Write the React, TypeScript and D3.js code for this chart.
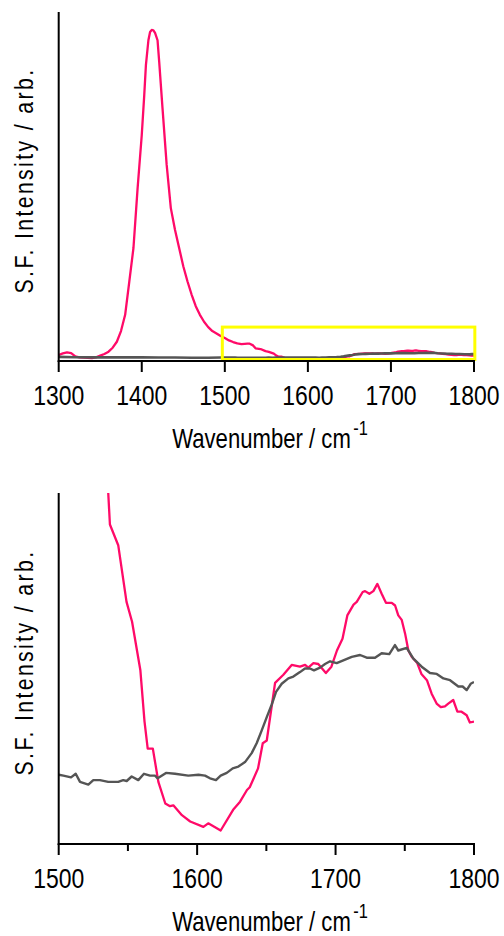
import React from "react";
import * as d3 from "d3";

// ---- Data ----
const pinkWn = [
  1300, 1305, 1310, 1315, 1320, 1325, 1330, 1340, 1345, 1350, 1355, 1360, 1365, 1370, 1375, 1380, 1385, 1390, 1395, 1400,
  1403, 1405, 1408, 1410, 1412, 1414, 1416, 1419, 1421, 1425, 1430, 1435, 1440, 1445, 1450, 1455, 1460, 1465, 1470, 1475,
  1480, 1485, 1490, 1495, 1500, 1505, 1510, 1515, 1520, 1524, 1527, 1530, 1534, 1537, 1543, 1549, 1553, 1559, 1562, 1564.3,
  1568, 1572, 1577, 1580.4, 1582.8, 1589, 1595, 1604.5, 1608, 1617, 1626, 1631, 1636, 1638, 1644, 1647.4, 1650.3, 1656.3,
  1662.3, 1668.3, 1674.3, 1678, 1680.3, 1684, 1687.5, 1693, 1697, 1701, 1705, 1708.5, 1713, 1715.3, 1719.6, 1721.3, 1724.4,
  1727.3, 1730.2, 1733.3, 1736.4, 1740.6, 1743, 1745.3, 1747.8, 1750.2, 1752.6, 1755, 1759, 1762, 1766, 1769.4, 1773, 1776,
  1779, 1781.4, 1785, 1788, 1791, 1794.7, 1797, 1800,
];
const pinkVal = [
  1.8, 2.3, 2.6, 2.4, 1.4, 1.1, 1.0, 0.9, 1.1, 1.6, 2.1, 2.8, 4.0, 5.8, 9.0, 13.9, 23.9, 34, 52, 68,
  80, 89, 96.5, 99, 99.6, 99.5, 98.7, 96.5, 90, 76, 59, 46, 39.5, 34, 28.5, 24, 20, 16.5, 13.9, 11.8,
  10.2, 9.0, 8.3, 7.5, 6.9, 6.2, 5.7, 5.3, 5.1, 5.15, 5.2, 5.2, 4.7, 3.83, 3.6, 2.97, 2.75, 2.21, 1.64, 1.34,
  1.34, 0.97, 0.73, 0.7, 0.71, 0.6, 0.53, 0.47, 0.51, 0.43, 0.66, 0.75, 0.88, 0.91, 1.12, 1.4, 1.43, 2.07,
  2.16, 2.27, 2.25, 2.27, 2.24, 2.29, 2.28, 2.18, 2.25, 2.43, 2.56, 2.82, 2.94, 2.97, 3.08, 3.09, 3.06,
  3.09, 3.17, 3.06, 2.96, 2.96, 2.93, 2.82, 2.77, 2.62, 2.43, 2.36, 2.29, 2.17, 2.1, 1.95, 1.84, 1.8,
  1.81, 1.84, 1.88, 1.75, 1.75, 1.71, 1.63, 1.64,
];
const grayWn = [
  1300, 1320, 1340, 1360, 1380, 1400, 1420, 1440, 1460, 1480, 1495, 1500, 1503.4, 1508.9, 1512.3, 1515.4, 1521.4, 1525,
  1529.8, 1535.8, 1543, 1546.6, 1549.1, 1552.7, 1557.5, 1561.6, 1566, 1569.6, 1571.5, 1577.5, 1584, 1593.6, 1601, 1605.7,
  1609.3, 1613.6, 1617, 1621.4, 1625.7, 1629.8, 1634.6, 1639.4, 1643, 1646.6, 1650.3, 1653.9, 1657, 1661.1, 1665.9, 1669.5,
  1674.3, 1677.9, 1681.5, 1684.4, 1688.8, 1692.4, 1696, 1700.8, 1705.6, 1711.7, 1717.7, 1722.5, 1728.5, 1733.3, 1738.8,
  1742.9, 1745.3, 1751.4, 1756.2, 1762.2, 1768.2, 1773.1, 1777.9, 1782.7, 1788.7, 1791.8, 1794.7, 1797.6, 1800,
];
const grayVal = [
  1.25, 1.15, 1.1, 1.1, 1.1, 1.1, 1.05, 1.05, 1.0, 1.0, 1.05, 1.05, 1.04, 1.02, 1.06, 0.97, 0.94, 0.99,
  0.99, 0.97, 0.97, 0.99, 0.98, 1.03, 0.99, 1.06, 1.04, 1.04, 1.01, 1.07, 1.06, 1.04, 1.05, 1.04,
  1.01, 0.99, 1.04, 1.07, 1.12, 1.14, 1.19, 1.29, 1.4, 1.54, 1.69, 1.83, 1.97, 2.06, 2.12, 2.14,
  2.19, 2.23, 2.23, 2.21, 2.24, 2.28, 2.31, 2.29, 2.32, 2.36, 2.38, 2.35, 2.35, 2.4, 2.39,
  2.49, 2.43, 2.46, 2.34, 2.25, 2.18, 2.17, 2.12, 2.1, 2.03, 2.03, 1.99, 2.06, 2.08,
];

const topXDomain = [1300, 1800];
const topYDomain = [0, 105];
const topTicks = [1300, 1400, 1500, 1600, 1700, 1800];
const botXDomain = [1500, 1800];
const botYDomain = [0.28, 4.18];
const botTicks = [1500, 1600, 1700, 1800];
const botMinorTicks = [1550, 1650, 1750];
const zoomBoxX = [1497, 1801];
const zoomBoxY = [0.45, 10.2];

const xTitle = "Wavenumber / cm";
const xTitleSup = "-1";
const yTitle = "S.F. Intensity / arb.";

const PINK = "#ff0a68";
const GRAY = "#555555";
const LEFT = 58.7;
const RIGHT = 474;
const FONT = "'Liberation Sans', Arial, sans-serif";
const SQUEEZE = 0.82;

type Pt = [number, number];
const pinkPts: Pt[] = pinkWn.map((w, i) => [w, pinkVal[i]]);
const grayPts: Pt[] = grayWn.map((w, i) => [w, grayVal[i]]);

function Panel(props: {
  id: string;
  top: number;
  bottom: number;
  xDomain: number[];
  yDomain: number[];
  ticks: number[];
  minorTicks: number[];
  box?: boolean;
  grayWidth: number;
}) {
  const { id, top, bottom, xDomain, yDomain, ticks, minorTicks, box, grayWidth } = props;
  const x = d3.scaleLinear().domain(xDomain).range([LEFT, RIGHT]);
  const y = d3.scaleLinear().domain(yDomain).range([bottom, top]);
  const line = d3
    .line<Pt>()
    .x((d) => x(d[0]))
    .y((d) => y(d[1]));
  const inRange = (p: Pt) => p[0] >= xDomain[0] - 10 && p[0] <= xDomain[1] + 10;
  const mid = (top + bottom) / 2 - 6;
  return (
    <g>
      <defs>
        <clipPath id={id}>
          <rect x={LEFT} y={top} width={RIGHT - LEFT} height={bottom - top} />
        </clipPath>
      </defs>
      <g clipPath={`url(#${id})`}>
        <path d={line(pinkPts.filter(inRange)) || ""} fill="none" stroke={PINK} strokeWidth={2.3} strokeLinejoin="round" />
        <path d={line(grayPts.filter(inRange)) || ""} fill="none" stroke={GRAY} strokeWidth={grayWidth} strokeLinejoin="round" />
      </g>
      {box && (
        <rect
          x={x(zoomBoxX[0])}
          y={y(zoomBoxY[1])}
          width={x(zoomBoxX[1]) - x(zoomBoxX[0])}
          height={y(zoomBoxY[0]) - y(zoomBoxY[1])}
          fill="none"
          stroke="#ffff00"
          strokeWidth={3}
        />
      )}
      <line x1={LEFT} x2={LEFT} y1={top} y2={bottom + 1} stroke="#000" strokeWidth={2} />
      <line x1={LEFT - 1} x2={RIGHT + 1} y1={bottom} y2={bottom} stroke="#000" strokeWidth={2} />
      {ticks.map((t) => (
        <g key={t}>
          <line x1={x(t)} x2={x(t)} y1={bottom} y2={bottom + 11} stroke="#000" strokeWidth={2} />
          <text
            transform={`translate(${x(t)},${bottom + 44}) scale(${SQUEEZE},1)`}
            textAnchor="middle"
            fontFamily={FONT}
            fontSize={28}
            fill="#000"
          >
            {t}
          </text>
        </g>
      ))}
      {minorTicks.map((t) => (
        <line key={t} x1={x(t)} x2={x(t)} y1={bottom} y2={bottom + 7} stroke="#000" strokeWidth={2} />
      ))}
      <text
        transform={`translate(270,${bottom + 87}) scale(${SQUEEZE},1)`}
        textAnchor="middle"
        fontFamily={FONT}
        fontSize={27}
        fill="#000"
      >
        {xTitle}
        <tspan dy={-13} fontSize={20} dx={3}>
          {xTitleSup}
        </tspan>
      </text>
      <text
        transform={`translate(33,${mid}) rotate(-90) scale(0.85,1)`}
        textAnchor="middle"
        fontFamily={FONT}
        fontSize={25}
        letterSpacing={2.8}
        fill="#000"
      >
        {yTitle}
      </text>
    </g>
  );
}

export default function App() {
  return (
    <svg
      width={504}
      height={936}
      viewBox="0 0 504 936"
      style={{ position: "absolute", left: 0, top: 0, background: "#fff" }}
    >
      <rect width={504} height={936} fill="#fff" />
      <Panel id="clipTop" top={12} bottom={361} xDomain={topXDomain} yDomain={topYDomain} ticks={topTicks} minorTicks={[]} box grayWidth={2.6} />
      <Panel id="clipBot" top={493} bottom={844} xDomain={botXDomain} yDomain={botYDomain} ticks={botTicks} minorTicks={botMinorTicks} grayWidth={2.4} />
    </svg>
  );
}
